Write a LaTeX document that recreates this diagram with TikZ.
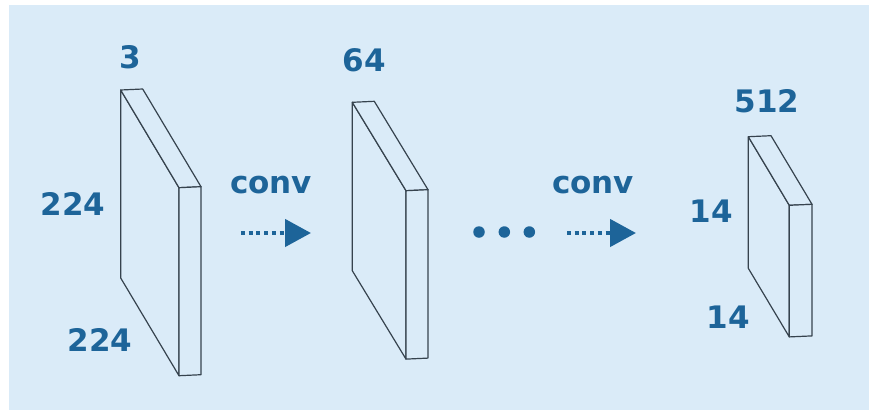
\documentclass[tikz,border=0pt]{standalone}
\usepackage{fontspec}
\setmainfont{DejaVu Sans}
\usetikzlibrary{arrows.meta}

\definecolor{bgblue}{HTML}{DAEBF8}
\definecolor{labelblue}{HTML}{1D6499}
\definecolor{edgegray}{HTML}{36434E}

\tikzset{
  dimlabel/.style={font=\fontsize{31}{31}\selectfont\bfseries, text=labelblue, inner sep=0pt},
  slabline/.style={draw=edgegray, line width=1.2pt, line join=round, fill=bgblue},
  convarrow/.style={draw=labelblue, line width=4.5pt, dash pattern=on 4pt off 3.7pt,
    -{Triangle[length=26pt,width=27pt]}},
  ellipsisdot/.style={circle, fill=labelblue, inner sep=0pt, minimum size=11.5pt}
}

% slab: #1 = left x, #2 = top y, #3 = depth dx, #4 = depth dy, #5 = height, #6 = thickness
\newcommand{\featslab}[6]{%
  \draw[slabline] (#1,#2) -- ({#1+#3},{#2+#4}) -- ({#1+#3},{#2+#4+#5}) -- (#1,{#2+#5}) -- cycle;
  \draw[slabline] (#1,#2) -- ({#1+#6},{#2-1}) -- ({#1+#3+#6},{#2+#4-1}) -- ({#1+#3},{#2+#4}) -- cycle;
  \draw[slabline] ({#1+#3},{#2+#4}) -- ({#1+#3+#6},{#2+#4-1}) -- ({#1+#3+#6},{#2+#4+#5-1}) -- ({#1+#3},{#2+#4+#5}) -- cycle;
}

\begin{document}
\begin{tikzpicture}[x=1pt,y=-1pt]
  \useasboundingbox (0,0) rectangle (869,410);
  \fill[bgblue] (9,5) rectangle (869,410);

  % input 224 x 224 x 3
  \featslab{120.7}{90}{58.3}{97.7}{188}{22}
  \node[dimlabel] (c1) at (130.3,57.5) {3};
  \node[dimlabel] (h1) at (72.8,203.5) {224};
  \node[dimlabel] (w1) at (100,340) {224};

  % first conv
  \node[dimlabel] (conv1) at (271,185) {conv};
  \coordinate (a1s) at (241,233);
  \coordinate (a1e) at (311,233);
  \draw[convarrow] (a1s) -- (a1e);

  % 64 channels
  \featslab{352.3}{102.3}{53.7}{88.4}{168.4}{22}
  \node[dimlabel] (c2) at (364.5,60) {64};

  % ellipsis
  \node[ellipsisdot] (d1) at (479,232) {};
  \node[ellipsisdot] (d2) at (504.3,232) {};
  \node[ellipsisdot] (d3) at (529.3,232) {};

  % last conv
  \node[dimlabel] (conv2) at (593,185) {conv};
  \coordinate (a2s) at (567,233);
  \coordinate (a2e) at (636,233);
  \draw[convarrow] (a2s) -- (a2e);

  % 14 x 14 x 512
  \featslab{748.3}{136.7}{41}{68.6}{131.6}{22.7}
  \node[dimlabel] (c3) at (767,101.7) {512};
  \node[dimlabel] (h3) at (711.3,211) {14};
  \node[dimlabel] (w3) at (728.3,317) {14};
\end{tikzpicture}
\end{document}
